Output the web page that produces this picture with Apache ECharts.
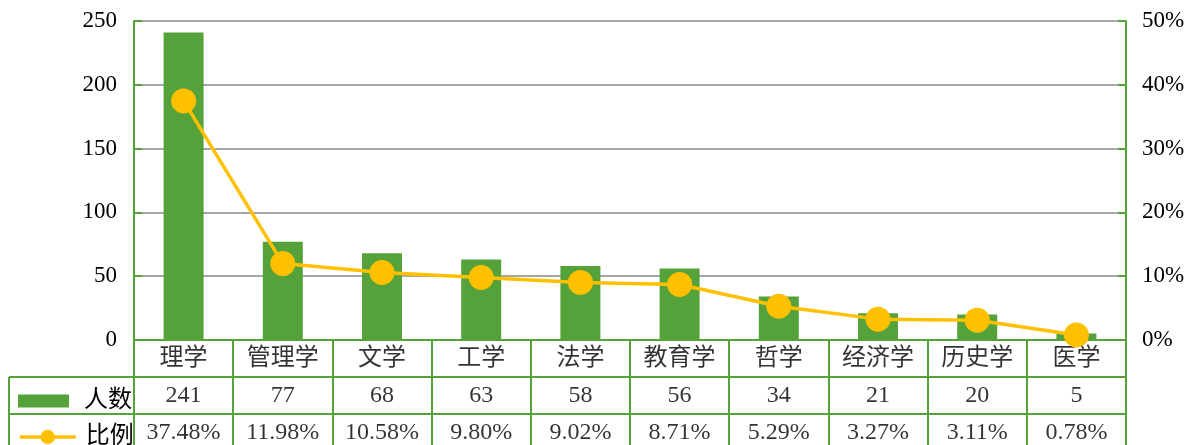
<!DOCTYPE html>
<html>
<head>
<meta charset="utf-8">
<script src="https://cdn.jsdelivr.net/npm/echarts@6/dist/echarts.min.js"></script>
<style>
  html, body { margin: 0; padding: 0; background: #fff; }
  #chart { width: 1189px; height: 445px; }
</style>
</head>
<body>
<div id="chart"></div>
<script>
// data
var categories = ['理学', '管理学', '文学', '工学', '法学', '教育学', '哲学', '经济学', '历史学', '医学']
var counts = [241, 77, 68, 63, 58, 56, 34, 21, 20, 5]
var ratios = [37.48, 11.98, 10.58, 9.80, 9.02, 8.71, 5.29, 3.27, 3.11, 0.78]
var seriesNames = ['人数', '比例']

var green = '#56A23A'
var gold = '#FFC000'
var font = '"Liberation Serif", "Noto Sans CJK SC", serif'
var rowH = 37

// table cells: row 0 categories, row 1 counts, row 2 ratios (y = row centre)
var tableCells = []
categories.forEach(function (c, i) {
  tableCells.push([i, 0.5, c])
  tableCells.push([i, 1.5, String(counts[i])])
  tableCells.push([i, 2.5, ratios[i].toFixed(2) + '%'])
})

var tableLine = { show: true, lineStyle: { color: green, width: 2 } }

var chart = echarts.init(document.getElementById('chart'))
var option = {
  animation: false,
  legend: [
    {
      data: [{ name: seriesNames[0], icon: 'rect' }],
      left: 13,
      top: 384,
      itemWidth: 51,
      itemHeight: 13,
      textStyle: { fontSize: 24, color: '#000', fontFamily: font, padding: [0, 0, 0, 10] }
    },
    {
      data: [seriesNames[1]],
      left: 13,
      top: 420,
      itemWidth: 56,
      itemHeight: 18,
      lineStyle: { color: gold, width: 3.5 },
      textStyle: { fontSize: 24, color: '#000', fontFamily: font, padding: [0, 0, 0, 5] }
    }
  ],
  grid: [
    { left: 134, right: 63, top: 21, bottom: 105 },
    { left: 134, right: 63, top: 340, bottom: 0 },
    { left: 9, width: 125, top: 377, bottom: 0 }
  ],
  xAxis: [
    {
      type: 'category',
      gridIndex: 0,
      data: categories,
      axisLine: { show: false },
      axisTick: { show: false },
      axisLabel: { show: false }
    },
    {
      type: 'category',
      gridIndex: 1,
      data: categories,
      boundaryGap: true,
      axisLine: { show: false },
      axisTick: { show: false },
      axisLabel: { show: false },
      splitLine: { show: true, interval: 0, showMinLine: true, showMaxLine: true, lineStyle: { color: green, width: 2 } }
    },
    {
      type: 'value',
      gridIndex: 2,
      min: 0,
      max: 1,
      interval: 1,
      axisLine: { show: false },
      axisTick: { show: false },
      axisLabel: { show: false },
      splitLine: tableLine
    }
  ],
  yAxis: [
    {
      type: 'value',
      gridIndex: 0,
      min: 0,
      max: 250,
      interval: 50,
      axisLine: { show: true, lineStyle: { color: green, width: 2 } },
      axisTick: { show: true, inside: true, length: 8, lineStyle: { color: green, width: 2 } },
      axisLabel: { color: '#000', fontSize: 23, fontFamily: font, margin: 17 },
      splitLine: { lineStyle: { color: '#A6A6A6', width: 2 } }
    },
    {
      type: 'value',
      gridIndex: 0,
      position: 'right',
      min: 0,
      max: 50,
      interval: 10,
      axisLine: { show: true, lineStyle: { color: green, width: 2 } },
      axisTick: { show: true, inside: true, length: 8, lineStyle: { color: green, width: 2 } },
      axisLabel: { color: '#000', fontSize: 23, fontFamily: font, margin: 16, formatter: '{value}%' },
      splitLine: { show: false }
    },
    {
      type: 'value',
      gridIndex: 1,
      inverse: true,
      min: 0,
      max: 105 / rowH,
      interval: 1,
      axisLine: { show: false },
      axisTick: { show: false },
      axisLabel: { show: false },
      splitLine: { show: true, showMaxLine: false, lineStyle: { color: green, width: 2 } }
    },
    {
      type: 'value',
      gridIndex: 2,
      inverse: true,
      min: 0,
      max: 68 / rowH,
      interval: 1,
      axisLine: { show: false },
      axisTick: { show: false },
      axisLabel: { show: false },
      splitLine: { show: true, showMaxLine: false, lineStyle: { color: green, width: 2 } }
    }
  ],
  series: [
    {
      name: seriesNames[0],
      type: 'bar',
      xAxisIndex: 0,
      yAxisIndex: 0,
      barWidth: 40,
      itemStyle: { color: green },
      data: counts
    },
    {
      name: seriesNames[1],
      type: 'line',
      xAxisIndex: 0,
      yAxisIndex: 1,
      symbol: 'circle',
      symbolSize: 25,
      itemStyle: { color: gold },
      lineStyle: { color: gold, width: 3.5 },
      data: ratios,
      z: 5
    },
    {
      name: 'table',
      type: 'scatter',
      xAxisIndex: 1,
      yAxisIndex: 2,
      symbolSize: 1,
      itemStyle: { color: 'rgba(0,0,0,0)' },
      label: {
        show: true,
        position: 'inside',
        color: '#000',
        fontSize: 24,
        fontFamily: font,
        formatter: function (p) { return p.value[2] }
      },
      silent: true,
      data: tableCells
    }
  ]
}
chart.setOption(option)
</script>
</body>
</html>
